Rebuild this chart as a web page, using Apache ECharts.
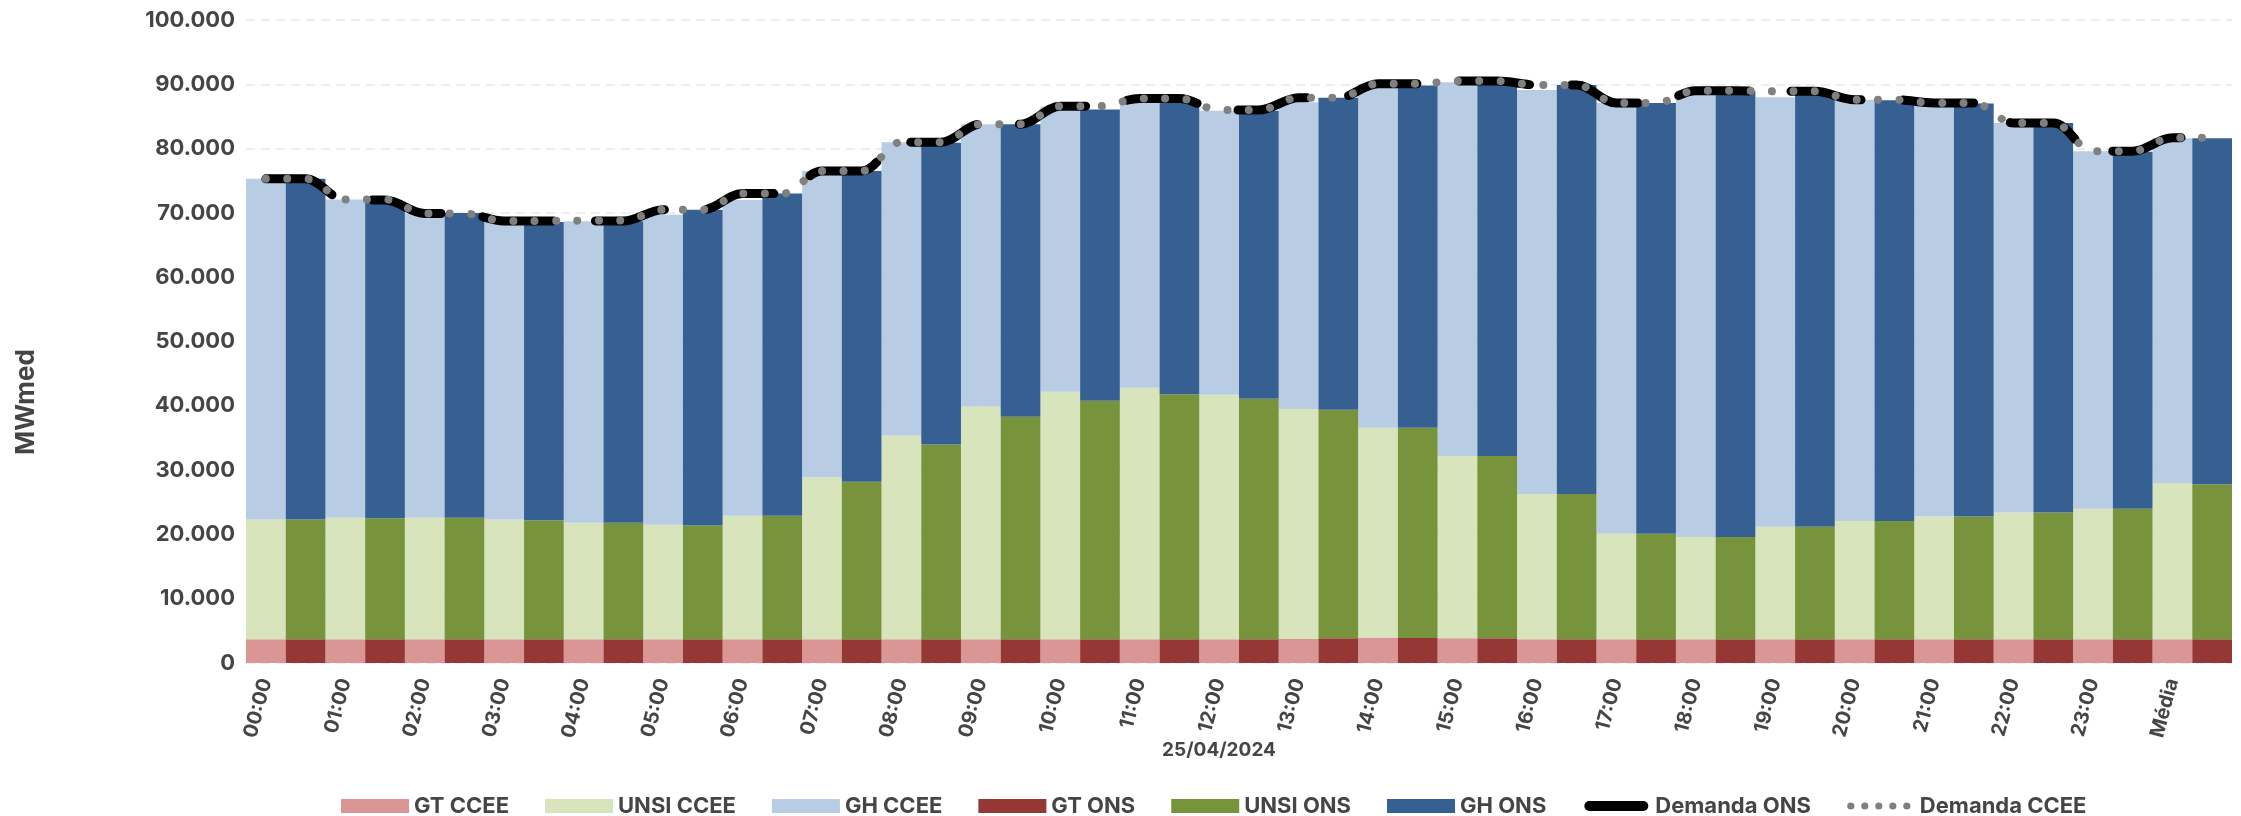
<!DOCTYPE html>
<html>
<head>
<meta charset="utf-8">
<script src="https://cdn.jsdelivr.net/npm/echarts@6/dist/echarts.min.js"></script>
<style>
  html, body { margin: 0; padding: 0; background: #fff; }
  #chart { width: 2241px; height: 816px; }
</style>
</head>
<body>
<div id="chart"></div>
<script>
const categories = ['00:00','01:00','02:00','03:00','04:00','05:00','06:00','07:00','08:00','09:00','10:00','11:00','12:00','13:00','14:00','15:00','16:00','17:00','18:00','19:00','20:00','21:00','22:00','23:00','Média'];

const gtCCEE   = [3700,3700,3700,3700,3700,3700,3700,3700,3700,3700,3700,3700,3700,3750,3950,3850,3700,3700,3700,3700,3700,3700,3700,3700,3700];
const unsiCCEE = [18600,18900,18900,18600,18100,17800,19200,25200,31700,36200,38500,39100,38000,35750,32650,28350,22600,16400,15900,17500,18400,19100,19700,20300,24300];
const ghCCEE   = [53000,49500,47300,46400,46900,48200,49100,47600,45600,43900,44300,44900,44200,47700,53400,58100,62800,67000,69400,66800,65500,64200,60600,55600,53600];

const gtONS    = [3700,3700,3700,3700,3700,3700,3700,3700,3700,3700,3700,3700,3700,3850,3900,3850,3700,3700,3700,3700,3700,3700,3700,3700,3700];
const unsiONS  = [18600,18800,18900,18500,18100,17700,19200,24500,30300,34600,37100,38100,37400,35550,32700,28350,22600,16400,15900,17500,18400,19100,19700,20300,24100];
const ghONS    = [53000,49100,47400,46400,46900,49100,50100,48300,46900,45500,45300,45400,44800,48500,53200,58300,63600,67000,69400,67600,65400,64200,60600,55500,53800];

const demandaONS  = [75300,72000,69900,68750,68750,70500,73000,76500,81000,83800,86600,87800,86000,87900,90100,90500,89900,87100,89000,88900,87600,87100,84000,79600,81700];
const demandaCCEE = [75300,72100,69900,68750,68800,70500,73000,76500,81000,83800,86600,87800,86000,87900,90100,90500,89900,87100,89000,88900,87600,87100,84000,79600,81700];

const yTicks = { min: 0, max: 100000, interval: 10000 };

// helpers built from the data above
const barSlots = categories.flatMap(c => [c + '|CCEE', c + '|ONS']);
const perBar = arr => arr.flatMap(v => [v, v]);
const fmt = v => String(v).replace(/\B(?=(\d{3})+(?!\d))/g, '.');

const colors = {
  gtC: '#DA9694', unsiC: '#D8E4BC', ghC: '#B8CCE4',
  gtO: '#953735', unsiO: '#77933C', ghO: '#366092'
};
const textColor = '#454545';
const font = 'Inter, "Noto Sans", sans-serif';

// legend icon shapes (pill for the solid demand line, five dots for the dotted one)
const pillIcon = 'path://M0,0 M68,14 M7,2 L61,2 A5,5 0 0 1 61,12 L7,12 A5,5 0 0 1 7,2 Z';
const dotsIcon = 'path://M0,0 M68,14 ' + [4, 18, 32, 46, 60].map(cx =>
  `M${cx - 3.6},7 A3.6,3.6 0 1 0 ${cx + 3.6},7 A3.6,3.6 0 1 0 ${cx - 3.6},7 Z`).join(' ');

function bar(name, data, stack, color) {
  return {
    name, type: 'bar', stack, data,
    xAxisIndex: 0, yAxisIndex: 0,
    barGap: '0%', barCategoryGap: '0%',
    itemStyle: { color },
    emphasis: { disabled: true },
    animation: false
  };
}

const chart = echarts.init(document.getElementById('chart'), null, { renderer: 'canvas' });
chart.setOption({
  animation: false,
  backgroundColor: '#ffffff',
  grid: { left: 246, right: 9, top: 20, bottom: 153, containLabel: false },
  graphic: [{
    type: 'text', x: 26, y: 402, rotation: Math.PI / 2,
    style: { text: 'MWmed', fill: textColor, font: '700 26px ' + font, textAlign: 'center', textVerticalAlign: 'middle' }
  }],
  legend: {
    left: 336, top: 790,
    itemWidth: 68, itemHeight: 14, itemGap: 36,
    textStyle: { color: textColor, fontFamily: font, fontWeight: 700, fontSize: 22 },
    data: [
      { name: 'GT CCEE', icon: 'rect' },
      { name: 'UNSI CCEE', icon: 'rect' },
      { name: 'GH CCEE', icon: 'rect' },
      { name: 'GT ONS', icon: 'rect' },
      { name: 'UNSI ONS', icon: 'rect' },
      { name: 'GH ONS', icon: 'rect' },
      { name: 'Demanda ONS', icon: pillIcon, itemStyle: { color: '#000000' } },
      { name: 'Demanda CCEE', icon: dotsIcon, itemStyle: { color: '#808080' } }
    ]
  },
  xAxis: [{
    type: 'category', data: categories, boundaryGap: true,
    axisLine: { show: false }, axisTick: { show: false }, axisLabel: { show: false },
    name: '25/04/2024', nameLocation: 'middle', nameGap: 78,
    nameTextStyle: { color: textColor, fontFamily: font, fontWeight: 700, fontSize: 19, padding: [0, 40, 0, 0] }
  }, {
    type: 'category', data: barSlots, boundaryGap: true, position: 'bottom',
    axisLine: { show: false }, axisTick: { show: false }, splitLine: { show: false },
    axisLabel: {
      rotate: 75, margin: 16,
      interval: (index) => index % 2 === 0,
      formatter: (value) => value.split('|')[0],
      color: textColor, fontFamily: font, fontWeight: 700, fontSize: 20
    }
  }],
  yAxis: {
    type: 'value', min: yTicks.min, max: yTicks.max, interval: yTicks.interval,
    axisLine: { show: false }, axisTick: { show: false },
    axisLabel: { formatter: fmt, color: textColor, fontFamily: font, fontWeight: 700, fontSize: 22, margin: 11 },
    splitLine: { show: true, lineStyle: { color: '#e3e9ed', width: 1.5, type: [9, 6] } }
  },
  series: [
    bar('GT CCEE', gtCCEE, 'ccee', colors.gtC),
    bar('UNSI CCEE', unsiCCEE, 'ccee', colors.unsiC),
    bar('GH CCEE', ghCCEE, 'ccee', colors.ghC),
    bar('GT ONS', gtONS, 'ons', colors.gtO),
    bar('UNSI ONS', unsiONS, 'ons', colors.unsiO),
    bar('GH ONS', ghONS, 'ons', colors.ghO),
    {
      name: 'Demanda ONS', type: 'line', xAxisIndex: 1, yAxisIndex: 0,
      data: perBar(demandaONS), smooth: 0.35, symbol: 'none', showSymbol: false,
      itemStyle: { color: '#000000' },
      lineStyle: { color: '#000000', width: 9, type: [71, 42], cap: 'round', join: 'round' },
      emphasis: { disabled: true }, z: 5
    },
    {
      name: 'Demanda CCEE', type: 'line', xAxisIndex: 1, yAxisIndex: 0,
      data: perBar(demandaCCEE), smooth: 0.35, symbol: 'none', showSymbol: false,
      itemStyle: { color: '#808080' },
      lineStyle: { color: '#808080', width: 8, type: [0.01, 21.4], cap: 'round', join: 'round' },
      emphasis: { disabled: true }, z: 6
    }
  ]
});
</script>
</body>
</html>
